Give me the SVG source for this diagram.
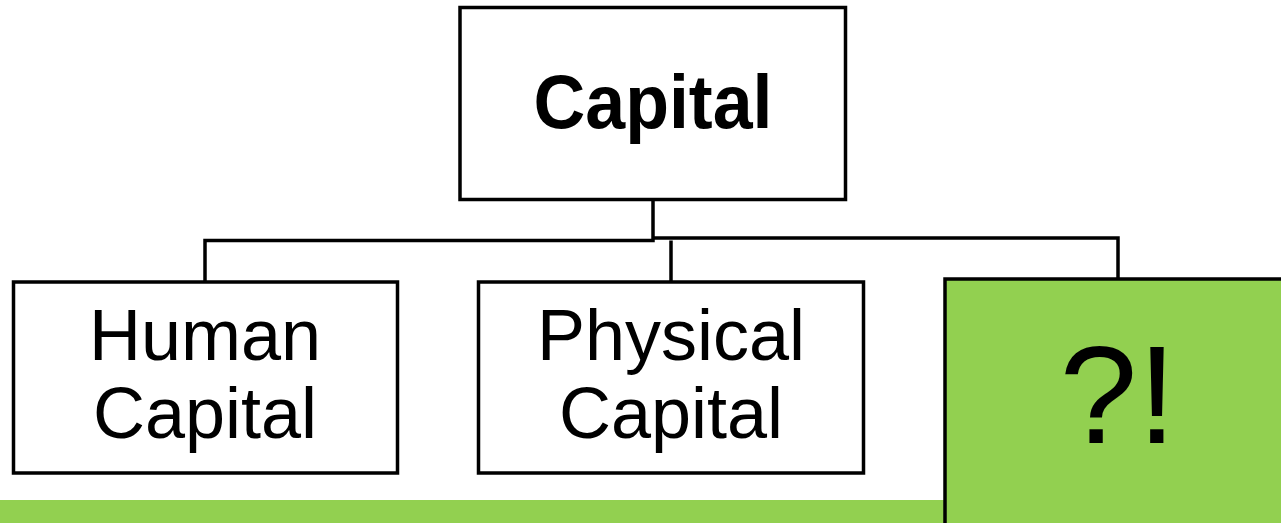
<svg xmlns="http://www.w3.org/2000/svg" width="1281" height="523" viewBox="0 0 1281 523">
<style>
.box{fill:#ffffff;stroke:#000000;stroke-width:3.5}
.green{fill:#92D050;stroke:#000000;stroke-width:3.5}
.conn{fill:none;stroke:#000000;stroke-width:3.5;stroke-linejoin:miter}
.t{font-family:"Liberation Sans",Arial,sans-serif;fill:#000000;text-anchor:middle}
</style>
<rect x="0" y="500" width="946" height="23" fill="#92D050"/>
<g id="connectors">
<path class="conn" d="M653 200 V240.5 H205 V282"/>
<path class="conn" d="M653 238 H1118 V279"/>
<path class="conn" d="M671 240.5 V282"/>
</g>
<g id="capital">
<rect class="box" x="460" y="7.5" width="385.5" height="192"/>
<text class="t" x="653" y="128" font-size="76" font-weight="bold" textLength="239" lengthAdjust="spacingAndGlyphs">Capital</text>
</g>
<g id="human">
<rect class="box" x="13.5" y="282" width="384" height="191"/>
<text class="t" x="205" y="360" font-size="72">Human</text>
<text class="t" x="205" y="438" font-size="72">Capital</text>
</g>
<g id="physical">
<rect class="box" x="478.5" y="282" width="385" height="191"/>
<text class="t" x="671" y="360" font-size="72">Physical</text>
<text class="t" x="671" y="438" font-size="72">Capital</text>
</g>
<g id="unknown">
<rect class="green" x="945" y="279" width="345" height="250"/>
<text class="t" x="1118" y="443" font-size="140">?!</text>
</g>
</svg>
